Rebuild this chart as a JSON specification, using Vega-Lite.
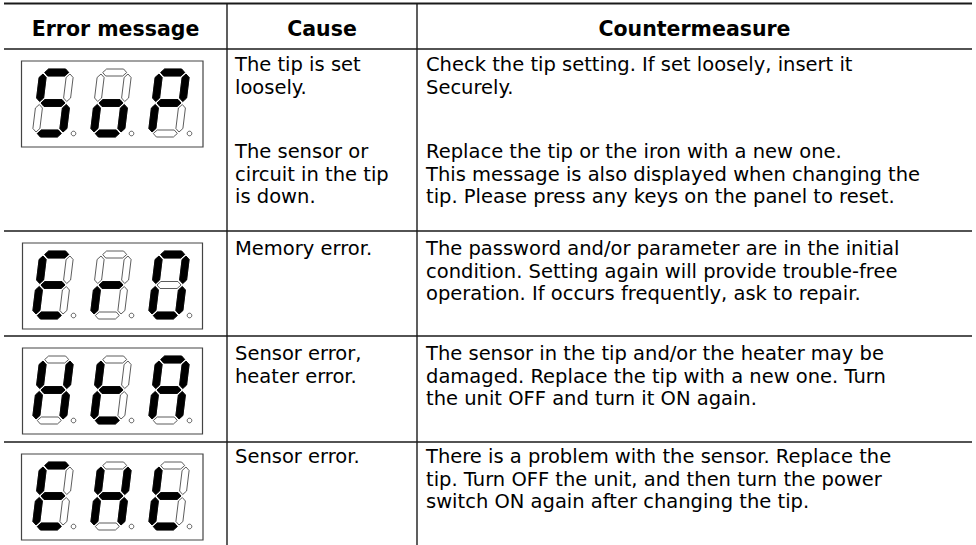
{
  "$schema": "https://vega.github.io/schema/vega-lite/v6.json",
  "width": 976,
  "height": 545,
  "padding": 0,
  "autosize": {"type": "none"},
  "background": "white",
  "config": {"view": {"stroke": null}},
  "datasets": {
    "toprule": [{"x": 4, "x2": 972, "y": 3.5, "y2": 3.5}],
    "lines": [
      {"x": 4, "x2": 972, "y": 49, "y2": 49},
      {"x": 4, "x2": 972, "y": 231, "y2": 231},
      {"x": 4, "x2": 972, "y": 336, "y2": 336},
      {"x": 4, "x2": 972, "y": 442, "y2": 442},
      {"x": 227, "x2": 227, "y": 3, "y2": 545},
      {"x": 417, "x2": 417, "y": 3, "y2": 545}
    ],
    "boxes": [
      {"code": "SoP", "x": 21.5, "x2": 203, "y": 61, "y2": 147},
      {"code": "Er0", "x": 22.5, "x2": 202.5, "y": 243, "y2": 329},
      {"code": "HtA", "x": 22.5, "x2": 202.5, "y": 348, "y2": 434},
      {"code": "EHt", "x": 21.5, "x2": 203, "y": 454, "y2": 540}
    ],
    "digits": [
      {"code": "SoP", "x": 53, "y": 103, "ch": "S"},
      {"code": "SoP", "x": 111, "y": 103, "ch": "o"},
      {"code": "SoP", "x": 169, "y": 103, "ch": "P"},
      {"code": "Er0", "x": 53, "y": 285, "ch": "E"},
      {"code": "Er0", "x": 111, "y": 285, "ch": "r"},
      {"code": "Er0", "x": 169, "y": 285, "ch": "0"},
      {"code": "HtA", "x": 53, "y": 390, "ch": "H"},
      {"code": "HtA", "x": 111, "y": 390, "ch": "t"},
      {"code": "HtA", "x": 169, "y": 390, "ch": "A"},
      {"code": "EHt", "x": 53, "y": 496, "ch": "E"},
      {"code": "EHt", "x": 111, "y": 496, "ch": "H"},
      {"code": "EHt", "x": 169, "y": 496, "ch": "t"}
    ],
    "headers": [
      {"text": "Error message", "x": 115.5, "y": 36},
      {"text": "Cause", "x": 322, "y": 36},
      {"text": "Countermeasure", "x": 694.5, "y": 36}
    ],
    "cells": [
      {"col": "Cause", "x": 235, "y": 71, "text": "The tip is set\nloosely."},
      {"col": "Cause", "x": 235, "y": 158, "text": "The sensor or\ncircuit in the tip\nis down."},
      {"col": "Cause", "x": 235, "y": 255, "text": "Memory error."},
      {"col": "Cause", "x": 235, "y": 360, "text": "Sensor error,\nheater error."},
      {"col": "Cause", "x": 235, "y": 463, "text": "Sensor error."},
      {"col": "Countermeasure", "x": 426, "y": 71, "text": "Check the tip setting. If set loosely, insert it\nSecurely."},
      {"col": "Countermeasure", "x": 426, "y": 158, "text": "Replace the tip or the iron with a new one.\nThis message is also displayed when changing the\ntip. Please press any keys on the panel to reset."},
      {"col": "Countermeasure", "x": 426, "y": 255, "text": "The password and/or parameter are in the initial\ncondition. Setting again will provide trouble-free\noperation. If occurs frequently, ask to repair."},
      {"col": "Countermeasure", "x": 426, "y": 360, "text": "The sensor in the tip and/or the heater may be\ndamaged. Replace the tip with a new one. Turn\nthe unit OFF and turn it ON again."},
      {"col": "Countermeasure", "x": 426, "y": 463, "text": "There is a problem with the sensor. Replace the\ntip. Turn OFF the unit, and then turn the power\nswitch ON again after changing the tip."}
    ]
  },
  "layer": [
    {
      "data": {"name": "toprule"},
      "mark": {"type": "rule", "color": "#1a1a1a", "strokeWidth": 2},
      "encoding": {
        "x": {"field": "x", "type": "quantitative", "scale": {"domain": [0, 976], "range": [0, 976], "nice": false, "zero": false}, "axis": null},
        "x2": {"field": "x2"},
        "y": {"field": "y", "type": "quantitative", "scale": {"domain": [0, 545], "range": [0, 545], "nice": false, "zero": false}, "axis": null},
        "y2": {"field": "y2"}
      }
    },
    {
      "data": {"name": "lines"},
      "mark": {"type": "rule", "color": "#1a1a1a", "strokeWidth": 1.4},
      "encoding": {
        "x": {"field": "x", "type": "quantitative", "scale": {"domain": [0, 976], "range": [0, 976], "nice": false, "zero": false}, "axis": null},
        "x2": {"field": "x2"},
        "y": {"field": "y", "type": "quantitative", "scale": {"domain": [0, 545], "range": [0, 545], "nice": false, "zero": false}, "axis": null},
        "y2": {"field": "y2"}
      }
    },
    {
      "data": {"name": "boxes"},
      "mark": {"type": "rect", "fill": "white", "stroke": "#444444", "strokeWidth": 1.2},
      "encoding": {
        "x": {"field": "x", "type": "quantitative", "scale": {"domain": [0, 976], "range": [0, 976], "nice": false, "zero": false}, "axis": null},
        "x2": {"field": "x2"},
        "y": {"field": "y", "type": "quantitative", "scale": {"domain": [0, 545], "range": [0, 545], "nice": false, "zero": false}, "axis": null},
        "y2": {"field": "y2"}
      }
    },
    {
      "data": {"name": "digits"},
      "mark": {
        "type": "point",
        "filled": false,
        "opacity": 1,
        "size": 4,
        "stroke": "#333333",
        "strokeWidth": 0.8,
        "shape": "M-8.3,-30.5L-4.4,-34L12.6,-34L15.7,-30.5L11.7,-27L-5.3,-27Z M17,-29L20.1,-25.5L17.6,-5L13.7,-1.5L10.6,-5L13.1,-25.5Z M13.3,1.5L16.4,5L13.9,25.5L10,29L6.9,25.5L9.4,5Z M-15.7,30.5L-11.7,27L5.3,27L8.3,30.5L4.4,34L-12.6,34Z M-13.7,1.5L-10.6,5L-13.1,25.5L-17,29L-20.1,25.5L-17.6,5Z M-10,-29L-6.9,-25.5L-9.4,-5L-13.3,-1.5L-16.4,-5L-13.9,-25.5Z M-12,0L-8.1,-3.5L8.9,-3.5L12,0L8.1,3.5L-8.9,3.5Z M22.8,30.5A2.3,2.3 0 1,1 18.2,30.5A2.3,2.3 0 1,1 22.8,30.5Z"
      },
      "encoding": {
        "x": {"field": "x", "type": "quantitative", "scale": {"domain": [0, 976], "range": [0, 976], "nice": false, "zero": false}, "axis": null},
        "y": {"field": "y", "type": "quantitative", "scale": {"domain": [0, 545], "range": [0, 545], "nice": false, "zero": false}, "axis": null}
      }
    },
    {
      "data": {"name": "digits"},
      "mark": {"type": "point", "filled": true, "opacity": 1, "size": 4, "color": "black", "stroke": "black", "strokeWidth": 0.8},
      "encoding": {
        "x": {"field": "x", "type": "quantitative", "scale": {"domain": [0, 976], "range": [0, 976], "nice": false, "zero": false}, "axis": null},
        "y": {"field": "y", "type": "quantitative", "scale": {"domain": [0, 545], "range": [0, 545], "nice": false, "zero": false}, "axis": null},
        "shape": {
          "field": "ch",
          "type": "nominal",
          "legend": null,
          "scale": {
            "domain": ["S", "o", "P", "E", "r", "0", "H", "t", "A"],
            "range": [
              "M-8.3,-30.5L-4.4,-34L12.6,-34L15.7,-30.5L11.7,-27L-5.3,-27Z M-10,-29L-6.9,-25.5L-9.4,-5L-13.3,-1.5L-16.4,-5L-13.9,-25.5Z M-12,0L-8.1,-3.5L8.9,-3.5L12,0L8.1,3.5L-8.9,3.5Z M13.3,1.5L16.4,5L13.9,25.5L10,29L6.9,25.5L9.4,5Z M-15.7,30.5L-11.7,27L5.3,27L8.3,30.5L4.4,34L-12.6,34Z",
              "M-12,0L-8.1,-3.5L8.9,-3.5L12,0L8.1,3.5L-8.9,3.5Z M-13.7,1.5L-10.6,5L-13.1,25.5L-17,29L-20.1,25.5L-17.6,5Z M13.3,1.5L16.4,5L13.9,25.5L10,29L6.9,25.5L9.4,5Z M-15.7,30.5L-11.7,27L5.3,27L8.3,30.5L4.4,34L-12.6,34Z",
              "M-8.3,-30.5L-4.4,-34L12.6,-34L15.7,-30.5L11.7,-27L-5.3,-27Z M17,-29L20.1,-25.5L17.6,-5L13.7,-1.5L10.6,-5L13.1,-25.5Z M-10,-29L-6.9,-25.5L-9.4,-5L-13.3,-1.5L-16.4,-5L-13.9,-25.5Z M-12,0L-8.1,-3.5L8.9,-3.5L12,0L8.1,3.5L-8.9,3.5Z M-13.7,1.5L-10.6,5L-13.1,25.5L-17,29L-20.1,25.5L-17.6,5Z",
              "M-8.3,-30.5L-4.4,-34L12.6,-34L15.7,-30.5L11.7,-27L-5.3,-27Z M-10,-29L-6.9,-25.5L-9.4,-5L-13.3,-1.5L-16.4,-5L-13.9,-25.5Z M-12,0L-8.1,-3.5L8.9,-3.5L12,0L8.1,3.5L-8.9,3.5Z M-13.7,1.5L-10.6,5L-13.1,25.5L-17,29L-20.1,25.5L-17.6,5Z M-15.7,30.5L-11.7,27L5.3,27L8.3,30.5L4.4,34L-12.6,34Z",
              "M-12,0L-8.1,-3.5L8.9,-3.5L12,0L8.1,3.5L-8.9,3.5Z M-13.7,1.5L-10.6,5L-13.1,25.5L-17,29L-20.1,25.5L-17.6,5Z",
              "M-8.3,-30.5L-4.4,-34L12.6,-34L15.7,-30.5L11.7,-27L-5.3,-27Z M17,-29L20.1,-25.5L17.6,-5L13.7,-1.5L10.6,-5L13.1,-25.5Z M13.3,1.5L16.4,5L13.9,25.5L10,29L6.9,25.5L9.4,5Z M-15.7,30.5L-11.7,27L5.3,27L8.3,30.5L4.4,34L-12.6,34Z M-13.7,1.5L-10.6,5L-13.1,25.5L-17,29L-20.1,25.5L-17.6,5Z M-10,-29L-6.9,-25.5L-9.4,-5L-13.3,-1.5L-16.4,-5L-13.9,-25.5Z",
              "M17,-29L20.1,-25.5L17.6,-5L13.7,-1.5L10.6,-5L13.1,-25.5Z M13.3,1.5L16.4,5L13.9,25.5L10,29L6.9,25.5L9.4,5Z M-13.7,1.5L-10.6,5L-13.1,25.5L-17,29L-20.1,25.5L-17.6,5Z M-10,-29L-6.9,-25.5L-9.4,-5L-13.3,-1.5L-16.4,-5L-13.9,-25.5Z M-12,0L-8.1,-3.5L8.9,-3.5L12,0L8.1,3.5L-8.9,3.5Z",
              "M-10,-29L-6.9,-25.5L-9.4,-5L-13.3,-1.5L-16.4,-5L-13.9,-25.5Z M-12,0L-8.1,-3.5L8.9,-3.5L12,0L8.1,3.5L-8.9,3.5Z M-13.7,1.5L-10.6,5L-13.1,25.5L-17,29L-20.1,25.5L-17.6,5Z M-15.7,30.5L-11.7,27L5.3,27L8.3,30.5L4.4,34L-12.6,34Z",
              "M-8.3,-30.5L-4.4,-34L12.6,-34L15.7,-30.5L11.7,-27L-5.3,-27Z M17,-29L20.1,-25.5L17.6,-5L13.7,-1.5L10.6,-5L13.1,-25.5Z M13.3,1.5L16.4,5L13.9,25.5L10,29L6.9,25.5L9.4,5Z M-13.7,1.5L-10.6,5L-13.1,25.5L-17,29L-20.1,25.5L-17.6,5Z M-10,-29L-6.9,-25.5L-9.4,-5L-13.3,-1.5L-16.4,-5L-13.9,-25.5Z M-12,0L-8.1,-3.5L8.9,-3.5L12,0L8.1,3.5L-8.9,3.5Z"
            ]
          }
        }
      }
    },
    {
      "data": {"name": "headers"},
      "mark": {"type": "text", "font": "DejaVu Sans", "fontSize": 20.5, "fontWeight": "bold", "align": "center", "baseline": "alphabetic", "color": "black"},
      "encoding": {
        "x": {"field": "x", "type": "quantitative", "scale": {"domain": [0, 976], "range": [0, 976], "nice": false, "zero": false}, "axis": null},
        "y": {"field": "y", "type": "quantitative", "scale": {"domain": [0, 545], "range": [0, 545], "nice": false, "zero": false}, "axis": null},
        "text": {"field": "text"}
      }
    },
    {
      "data": {"name": "cells"},
      "mark": {"type": "text", "font": "DejaVu Sans", "fontSize": 19.5, "lineHeight": 22.5, "lineBreak": "\n", "align": "left", "baseline": "alphabetic", "color": "black"},
      "encoding": {
        "x": {"field": "x", "type": "quantitative", "scale": {"domain": [0, 976], "range": [0, 976], "nice": false, "zero": false}, "axis": null},
        "y": {"field": "y", "type": "quantitative", "scale": {"domain": [0, 545], "range": [0, 545], "nice": false, "zero": false}, "axis": null},
        "text": {"field": "text"}
      }
    }
  ]
}
